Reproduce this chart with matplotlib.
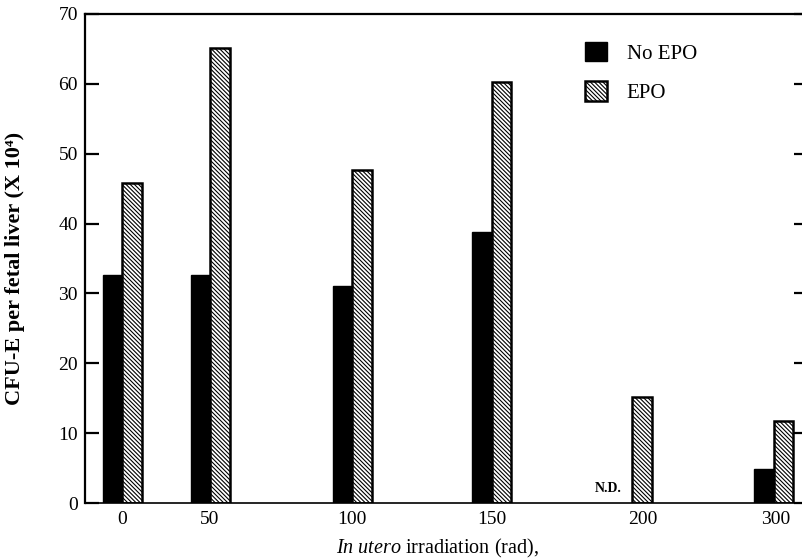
import numpy as np
import matplotlib
matplotlib.use('Agg')
import matplotlib.pyplot as plt
import matplotlib.patches as mpatches

plt.rcParams['font.family'] = ['Liberation Serif', 'DejaVu Serif']
plt.rcParams['mathtext.fontset'] = 'custom'
plt.rcParams['mathtext.rm'] = 'Liberation Serif'
plt.rcParams['mathtext.it'] = 'Liberation Serif:italic'
plt.rcParams['hatch.linewidth'] = 0.8

# data (CFU-E per fetal liver, x 10^4)
DOSES = ['0', '50', '100', '150', '200', '300']
NO_EPO = [32.6, 32.6, 31.1, 38.8, np.nan, 4.9]   # 200 rad: not determined
EPO = [45.8, 65.2, 47.6, 60.2, 15.2, 11.8]

# layout: group centres are not evenly spaced in the original
GROUP_X = np.array([0, 88, 230, 370, 510, 652])
TICK_X = [0, 88, 230, 370, 521, 654]
BAR_W = 19.5
HATCH = '\\' * 8

fig = plt.figure(figsize=(8.03, 5.59), dpi=100)
ax = fig.add_axes([85 / 803, 1 - 503 / 559, (808 - 85) / 803, (503 - 14) / 559])

for x, v in zip(GROUP_X, NO_EPO):
    if not np.isnan(v):
        ax.bar(x - BAR_W / 2, v, BAR_W, color='black', edgecolor='black', linewidth=1.0)
ax.bar(GROUP_X + BAR_W / 2, EPO, BAR_W, facecolor='white', edgecolor='black',
       hatch=HATCH, linewidth=1.8)

ax.text(GROUP_X[4] - 24, 1.2, 'N.D.', ha='center', va='bottom',
        fontsize=10, fontweight='bold')

ax.set_xlim(-37, 686)
ax.set_ylim(0, 70)
ax.set_yticks(range(0, 71, 10))
ax.set_xticks(TICK_X)
ax.set_xticklabels(DOSES)
ax.tick_params(axis='y', direction='in', length=10, width=1.6, labelsize=14,
               pad=5, right=True)
ax.tick_params(axis='x', length=0, labelsize=14, pad=6)

ax.spines['right'].set_visible(False)
ax.spines['top'].set_linewidth(1.6)
ax.spines['left'].set_linewidth(1.6)
ax.spines['bottom'].set_linewidth(1.2)

ax.set_ylabel('CFU-E per fetal liver (X 10⁴)', fontsize=16, fontweight='bold')
ax.yaxis.set_label_coords(-0.083, 0.48)
ax.set_xlabel(r'$\mathit{In\ utero}$ irradiation (rad),', fontsize=14.5)
ax.xaxis.set_label_coords(0.487, -0.07)

handles = [mpatches.Patch(facecolor='black', edgecolor='black', label='No EPO'),
           mpatches.Patch(facecolor='white', edgecolor='black', hatch=HATCH,
                          linewidth=1.8, label='EPO')]
ax.legend(handles=handles, loc='upper left', bbox_to_anchor=(585 / 803, 1 - 42 / 559),
          bbox_transform=fig.transFigure, frameon=False, fontsize=15,
          handlelength=1.05, handleheight=1.05, handletextpad=0.95,
          labelspacing=0.85, borderpad=0, borderaxespad=0)

fig.savefig('out.png', dpi=100)
